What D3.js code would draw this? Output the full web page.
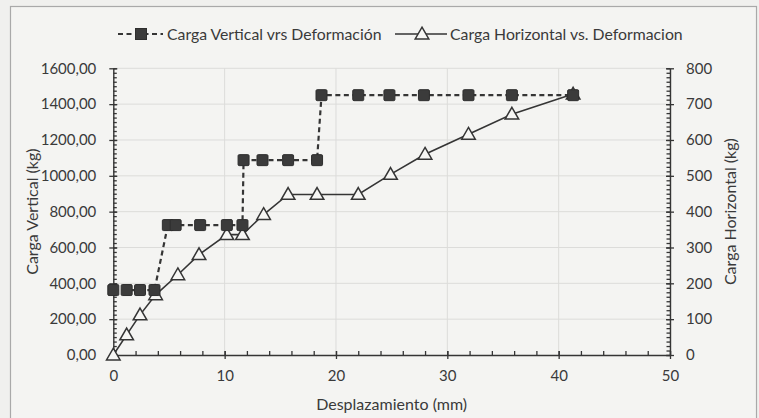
<!DOCTYPE html>
<html>
<head>
<meta charset="utf-8">
<script src="https://cdn.jsdelivr.net/npm/d3@7"></script>
<style>
  html, body { margin: 0; padding: 0; background: #f2f2f0; }
  svg { display: block; }
  text { font-family: Lato, "Liberation Sans", sans-serif; fill: #3a3a3a; }
</style>
</head>
<body>
<svg id="chart" width="759" height="418"></svg>
<script>
// Vertical load vs displacement (left axis)
const vertDispl = [0, 1.2, 2.4, 3.7, 4.9, 5.6, 7.8, 10.2, 11.6, 11.7, 13.4, 15.7, 18.3, 18.7, 22.0, 24.8, 27.9, 31.9, 35.8, 41.3];
const vertLoad  = [362.5, 362.5, 362.5, 362.5, 725, 725, 725, 725, 725, 1087.5, 1087.5, 1087.5, 1087.5, 1450, 1450, 1450, 1450, 1450, 1450, 1450];

// Horizontal load vs displacement (right axis)
const horDispl = [0, 1.2, 2.4, 3.8, 5.8, 7.7, 10.2, 11.6, 13.5, 15.7, 18.3, 22.0, 24.9, 28.0, 31.9, 35.8, 41.3];
const horLoad  = [0, 56, 112, 168, 224, 280, 336, 336, 392, 448, 448, 448, 504, 560, 616, 672, 728];

// Axis ticks
const xTicks = [0, 10, 20, 30, 40, 50];
const yLeftTicks = [0, 200, 400, 600, 800, 1000, 1200, 1400, 1600];
const yRightTicks = [0, 100, 200, 300, 400, 500, 600, 700, 800];

const seriesNames = ["Carga Vertical vrs Deformación", "Carga Horizontal vs. Deformacion"];
const xTitle = "Desplazamiento (mm)";
const yLeftTitle = "Carga Vertical (kg)";
const yRightTitle = "Carga Horizontal (kg)";

const svg = d3.select("#chart");
const W = 759, H = 418;
const plot = { left: 113.3, right: 670, top: 68.3, bottom: 355 };
const ink = "#353535";

// chart frame
svg.append("rect").attr("x", 0).attr("y", 0).attr("width", W).attr("height", H).attr("fill", "#f0f0ee");
svg.append("rect").attr("x", 10.5).attr("y", 6.5).attr("width", 746).attr("height", 430)
  .attr("fill", "#f4f4f2").attr("stroke", "#a9a9a9").attr("stroke-width", 1.2);

const x = d3.scaleLinear().domain([0, 50]).range([plot.left, plot.right]);
const yL = d3.scaleLinear().domain([0, 1600]).range([plot.bottom, plot.top]);
const yR = d3.scaleLinear().domain([0, 800]).range([plot.bottom, plot.top]);

// gridlines
const grid = svg.append("g").attr("stroke", "#dcdcda").attr("stroke-width", 1);
yLeftTicks.slice(1).forEach(v => grid.append("line")
  .attr("x1", plot.left).attr("x2", plot.right).attr("y1", yL(v)).attr("y2", yL(v)));
xTicks.slice(1).forEach(v => grid.append("line")
  .attr("x1", x(v)).attr("x2", x(v)).attr("y1", plot.top).attr("y2", plot.bottom));

const fmtComma = v => d3.format(".2f")(v).replace(".", ",");

// minor ticks, drawn inward
function minorAxis(axisFn, scale, values, size) {
  return axisFn(scale).tickValues(values).tickSize(size).tickFormat("");
}
const xMinor = d3.range(0, 50.01, 2);
const yLMinor = d3.range(0, 1600.01, 25);
const yRMinor = d3.range(0, 800.01, 12.5);

function styleAxis(g) {
  g.selectAll("path, line").attr("stroke", ink).attr("stroke-width", 1.3);
  g.select(".domain").attr("stroke-width", 1.4);
}
function styleLabels(g) {
  g.selectAll("text").attr("font-size", 15).style("fill", "#3a3a3a").attr("font-family", "Lato");
}

// x axis
svg.append("g").attr("transform", `translate(0,${plot.bottom})`)
  .call(minorAxis(d3.axisTop, x, xMinor, 4)).call(styleAxis)
  .call(g => g.select(".domain").remove());
svg.append("g").attr("transform", `translate(0,${plot.bottom})`)
  .call(d3.axisBottom(x).tickValues(xTicks).tickSizeInner(4).tickSizeOuter(0).tickPadding(11))
  .call(styleAxis)
  .call(g => g.selectAll(".tick line").attr("y1", -4))
  .call(styleLabels);

// left axis
svg.append("g").attr("transform", `translate(${plot.left},0)`)
  .call(minorAxis(d3.axisRight, yL, yLMinor, 3.5)).call(styleAxis)
  .call(g => g.select(".domain").remove());
svg.append("g").attr("transform", `translate(${plot.left},0)`)
  .call(d3.axisLeft(yL).tickValues(yLeftTicks).tickSizeInner(4).tickSizeOuter(0).tickPadding(13).tickFormat(fmtComma))
  .call(styleAxis)
  .call(g => g.selectAll(".tick line").attr("x1", 4))
  .call(styleLabels);

// right axis
svg.append("g").attr("transform", `translate(${plot.right},0)`)
  .call(minorAxis(d3.axisLeft, yR, yRMinor, 3.5)).call(styleAxis)
  .call(g => g.select(".domain").remove());
svg.append("g").attr("transform", `translate(${plot.right},0)`)
  .call(d3.axisRight(yR).tickValues(yRightTicks).tickSizeInner(4).tickSizeOuter(0).tickPadding(12))
  .call(styleAxis)
  .call(g => g.selectAll(".tick line").attr("x1", -4))
  .call(styleLabels);

// axis titles
svg.append("text").attr("x", (plot.left + plot.right) / 2).attr("y", 410)
  .attr("text-anchor", "middle").attr("font-size", 16).text(xTitle);
svg.append("text").attr("transform", `translate(38,${(plot.top + plot.bottom) / 2}) rotate(-90)`)
  .attr("text-anchor", "middle").attr("font-size", 16).text(yLeftTitle);
svg.append("text").attr("transform", `translate(736,${(plot.top + plot.bottom) / 2}) rotate(-90)`)
  .attr("text-anchor", "middle").attr("font-size", 16).text(yRightTitle);

// series data
const vert = vertDispl.map((d, i) => [d, vertLoad[i]]);
const hor = horDispl.map((d, i) => [d, horLoad[i]]);

const tri = d3.symbol().type(d3.symbolTriangle).size(80);

// horizontal load: solid line
svg.append("path").datum(hor)
  .attr("d", d3.line().x(d => x(d[0])).y(d => yR(d[1])))
  .attr("fill", "none").attr("stroke", ink).attr("stroke-width", 1.6);

// vertical load: dashed line
svg.append("path").datum(vert)
  .attr("d", d3.line().x(d => x(d[0])).y(d => yL(d[1])))
  .attr("fill", "none").attr("stroke", ink).attr("stroke-width", 2.2).attr("stroke-dasharray", "5,3.5");

// hollow triangles
svg.append("g").selectAll("path").data(hor).join("path")
  .attr("transform", d => `translate(${x(d[0])},${yR(d[1]) + 1})`)
  .attr("d", tri).attr("fill", "#f6f6f4").attr("stroke", ink).attr("stroke-width", 1.5);

// filled squares
svg.append("g").selectAll("rect").data(vert).join("rect")
  .attr("x", d => x(d[0]) - 5.5).attr("y", d => yL(d[1]) - 5.5)
  .attr("width", 11).attr("height", 11).attr("rx", 1.2)
  .attr("fill", "#3b3b3b").attr("stroke", "#2e2e2e").attr("stroke-width", 1);

// legend
const leg = svg.append("g");
const ly = 34;
leg.append("line").attr("x1", 118).attr("x2", 163).attr("y1", ly).attr("y2", ly)
  .attr("stroke", ink).attr("stroke-width", 2.2).attr("stroke-dasharray", "5,3.5");
leg.append("rect").attr("x", 141 - 5.5).attr("y", ly - 5.5).attr("width", 11).attr("height", 11)
  .attr("fill", "#3b3b3b").attr("stroke", "#2e2e2e");
leg.append("text").attr("x", 167).attr("y", ly + 5.5).attr("font-size", 15.8).text(seriesNames[0]);
leg.append("line").attr("x1", 395).attr("x2", 447).attr("y1", ly).attr("y2", ly)
  .attr("stroke", ink).attr("stroke-width", 1.6);
leg.append("path").attr("transform", `translate(422,${ly + 1})`).attr("d", tri)
  .attr("fill", "#f6f6f4").attr("stroke", ink).attr("stroke-width", 1.5);
leg.append("text").attr("x", 450).attr("y", ly + 5.5).attr("font-size", 15.8).text(seriesNames[1]);
</script>
</body>
</html>
